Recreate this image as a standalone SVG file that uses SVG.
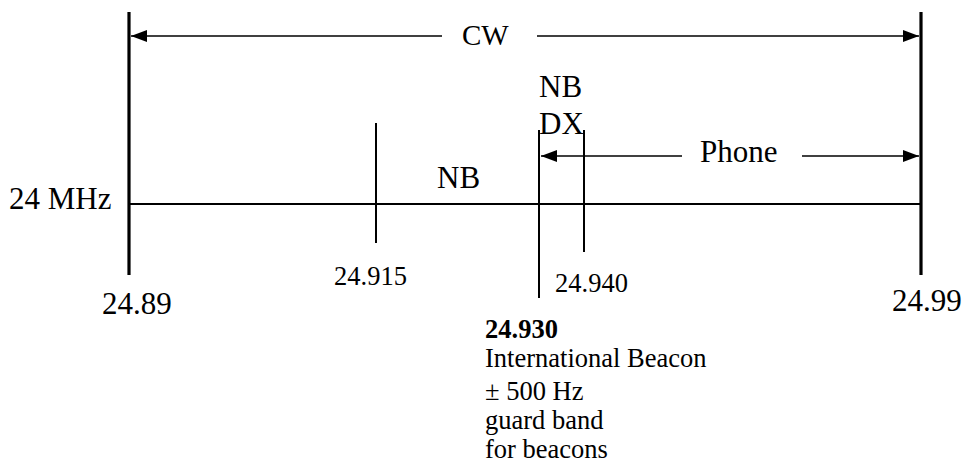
<svg xmlns="http://www.w3.org/2000/svg" width="967" height="466" viewBox="0 0 967 466">
<style>
text{font-family:"Liberation Serif","Times New Roman",serif;fill:#000}
.big{font-size:31px}
.sm{font-size:26.5px}
.b{font-weight:bold}
.thick{stroke:#000;stroke-width:3.2;fill:none}
.thin{stroke:#000;stroke-width:2;fill:none}
.arr{stroke:#000;stroke-width:1.6;fill:none}
</style>
<defs>
<marker id="ah" viewBox="0 0 16 12" refX="16" refY="6" markerWidth="16" markerHeight="12" markerUnits="userSpaceOnUse" orient="auto-start-reverse">
<path d="M0,0 L16,6 L0,12 Z" fill="#000"/>
</marker>
</defs>
<g id="band-edges">
<line class="thick" x1="129" y1="12" x2="129" y2="275"/>
<line class="thick" x1="921" y1="12" x2="921" y2="275"/>
</g>
<g id="axis">
<line class="thin" x1="130" y1="204" x2="920" y2="204"/>
<text class="big" x="9" y="209">24 MHz</text>
</g>
<g id="tick-24915">
<line class="thin" x1="376" y1="123" x2="376" y2="243"/>
<text class="sm" x="334" y="285">24.915</text>
</g>
<g id="tick-24930">
<line class="thin" x1="539" y1="130" x2="539" y2="298"/>
<text class="sm b" x="485" y="338">24.930</text>
<text class="sm" x="485" y="367">International Beacon</text>
<text class="sm" x="485" y="400">± 500 Hz</text>
<text class="sm" x="485" y="429">guard band</text>
<text class="sm" x="485" y="458">for beacons</text>
</g>
<g id="tick-24940">
<line class="thin" x1="584" y1="130" x2="584" y2="252"/>
<text class="sm" x="555" y="292">24.940</text>
</g>
<g id="labels">
<text class="big" x="102" y="314">24.89</text>
<text class="big" x="892" y="311">24.99</text>
<text class="big" x="462" y="45" style="font-size:29px">CW</text>
<text class="big" x="437" y="188">NB</text>
<text class="big" x="539" y="97">NB</text>
<text class="big" x="539" y="134">DX</text>
<text class="big" x="700" y="162">Phone</text>
</g>
<g id="connectors">
<line class="arr" x1="442" y1="36" x2="131" y2="36" marker-end="url(#ah)"/>
<line class="arr" x1="537" y1="36" x2="919" y2="36" marker-end="url(#ah)"/>
<line class="arr" x1="682" y1="156" x2="541" y2="156" marker-end="url(#ah)"/>
<line class="arr" x1="802" y1="156" x2="919" y2="156" marker-end="url(#ah)"/>
</g>
</svg>
